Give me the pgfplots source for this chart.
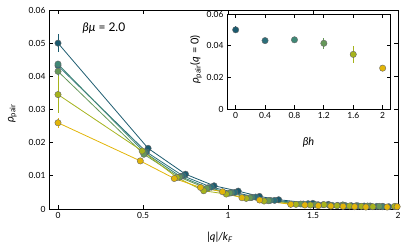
\documentclass[border=0pt]{standalone}
\usepackage{fontspec}
\setmainfont{Lato}
\usepackage{pgfplots}
\pgfplotsset{compat=1.18}
\definecolor{c0}{HTML}{1B5A6E}
\definecolor{c1}{HTML}{2B6F7A}
\definecolor{c2}{HTML}{3F8876}
\definecolor{c3}{HTML}{66985A}
\definecolor{c4}{HTML}{A6B31C}
\definecolor{c5}{HTML}{E2B508}
\pgfplotsset{
  ser/.style={color=#1, line width=0.8pt, mark=*, mark size=3.2pt,
    mark options={fill=#1, draw=black!60, line width=0.4pt},
    error bars/.cd, y dir=both, y explicit, error bar style={line width=0.9pt, color=#1}, error mark=none},
  ins/.style={only marks, mark=*, mark size=3.2pt, color=#1, mark options={fill=#1, draw=black!60, line width=0.4pt}, error bars/.cd, y dir=both, y explicit, error bar style={line width=0.9pt}, error mark=none},
}
\begin{document}
\begin{tikzpicture}[x=1bp,y=1bp]
\useasboundingbox (0,0) rectangle (415,246);
\begin{axis}[
  at={(49bp,37bp)}, anchor=south west,
  scale only axis, width=349bp, height=199bp,
  xmin=-0.053, xmax=2, ymin=0, ymax=0.06,
  xtick={0,0.5,1,1.5,2}, xticklabels={0,0.5,1,1.5,2},
  ytick={0,0.01,0.02,0.03,0.04,0.05,0.06},
  yticklabels={0,0.01,0.02,0.03,0.04,0.05,0.06},
  tick align=inside, major tick length=4bp,
  tick style={line width=0.8pt, black},
  axis line style={line width=0.9pt},
  ticklabel style={font=\fontsize{8.5}{9}\selectfont},
  /pgf/number format/assume math mode=true,
  scaled y ticks=false,
  xlabel={\textit{|q|/k}\textsubscript{\textit{F}}},
  xlabel style={font=\fontsize{11}{12}\selectfont, at={(axis description cs:0.49,-0.10)}, anchor=north},
  ylabel={\textit{ρ}\textsubscript{pair}},
  ylabel style={font=\fontsize{11}{12}\selectfont, at={(axis description cs:-0.105,0.48)}, anchor=center},
  clip=false,
]
\addplot[ser=c0] coordinates {(0,0.0500) +- (0,0.0028) (0.530,0.0183) (0.750,0.0105) (0.918,0.0070) (1.060,0.0054) (1.185,0.0038) (1.298,0.0028) (1.499,0.0017) (1.590,0.0014) (1.676,0.0012) (1.758,0.0010) (1.836,0.0009) (1.911,0.0008) (1.983,0.0007)};
\addplot[ser=c1] coordinates {(0,0.0432) +- (0,0.0012) (0.520,0.0172) (0.735,0.0100) (0.901,0.0066) (1.040,0.0050) (1.163,0.0036) (1.274,0.0026) (1.471,0.0016) (1.560,0.0013) (1.645,0.0011) (1.725,0.0010) (1.801,0.0009) (1.875,0.0008) (1.946,0.0007)};
\addplot[ser=c2] coordinates {(0,0.0437) +- (0,0.0010) (0.510,0.0170) (0.721,0.0098) (0.883,0.0064) (1.020,0.0049) (1.140,0.0035) (1.249,0.0026) (1.443,0.0015) (1.530,0.0013) (1.613,0.0011) (1.692,0.0010) (1.767,0.0009) (1.839,0.0008) (1.908,0.0007)};
\addplot[ser=c3] coordinates {(0,0.0415) +- (0,0.0030) (0.505,0.0165) (0.714,0.0096) (0.875,0.0062) (1.010,0.0048) (1.129,0.0034) (1.237,0.0025) (1.428,0.0015) (1.515,0.0013) (1.597,0.0011) (1.675,0.0012) (1.749,0.0009) (1.821,0.0009) (1.890,0.0008)};
\addplot[ser=c4] coordinates {(0,0.0345) +- (0,0.0055) (0.495,0.0175) (0.700,0.0095) (0.857,0.0055) (0.990,0.0045) (1.107,0.0032) (1.212,0.0024) (1.400,0.0014) (1.485,0.0012) (1.565,0.0013) (1.641,0.0010) (1.715,0.0009) (1.785,0.0008) (1.852,0.0007) (1.980,0.0008)};
\addplot[ser=c5] coordinates {(0,0.0260) +- (0,0.0015) (0.484,0.0145) (0.684,0.0092) (0.838,0.0065) (0.968,0.0052) (1.082,0.0034) (1.186,0.0027) (1.369,0.0014) (1.452,0.0012) (1.531,0.0010) (1.605,0.0009) (1.677,0.0008) (1.745,0.0007) (1.811,0.0006) (1.936,0.0006) (1.995,0.0007)};
\node[font=\fontsize{12}{13}\selectfont, anchor=center] at (axis cs:0.27,0.0545) {\textit{βμ} = 2.0};
\end{axis}
\begin{axis}[
  at={(227bp,137bp)}, anchor=south west,
  scale only axis, width=163bp, height=95bp,
  axis background/.style={fill=white},
  xmin=-0.118, xmax=2.1, ymin=0, ymax=0.06,
  xtick={0,0.4,0.8,1.2,1.6,2}, xticklabels={0,0.4,0.8,1.2,1.6,2},
  ytick={0,0.02,0.04,0.06}, yticklabels={0,0.02,0.04,0.06},
  tick align=inside, major tick length=3.5bp,
  tick style={line width=0.8pt, black},
  axis line style={line width=0.9pt},
  ticklabel style={font=\fontsize{8.5}{9}\selectfont},
  /pgf/number format/assume math mode=true,
  scaled y ticks=false,
  xlabel={\textit{βh}},
  xlabel style={font=\fontsize{11}{12}\selectfont, at={(axis description cs:0.5,-0.26)}, anchor=north},
  ylabel={\textit{ρ}\textsubscript{pair}(\textit{q} = 0)},
  ylabel style={font=\fontsize{11}{12}\selectfont, at={(axis description cs:-0.19,0.52)}, anchor=center},
  clip=false,
]
\addplot[ins=c0] coordinates {(0,0.0500) +- (0,0.0022)};
\addplot[ins=c1] coordinates {(0.4,0.0432) +- (0,0.0008)};
\addplot[ins=c2] coordinates {(0.8,0.0437) +- (0,0.0008)};
\addplot[ins=c3] coordinates {(1.2,0.0415) +- (0,0.0035)};
\addplot[ins=c4] coordinates {(1.6,0.0345) +- (0,0.0055)};
\addplot[ins=c5] coordinates {(2,0.0258) +- (0,0.0008)};
\end{axis}
\end{tikzpicture}
\end{document}
